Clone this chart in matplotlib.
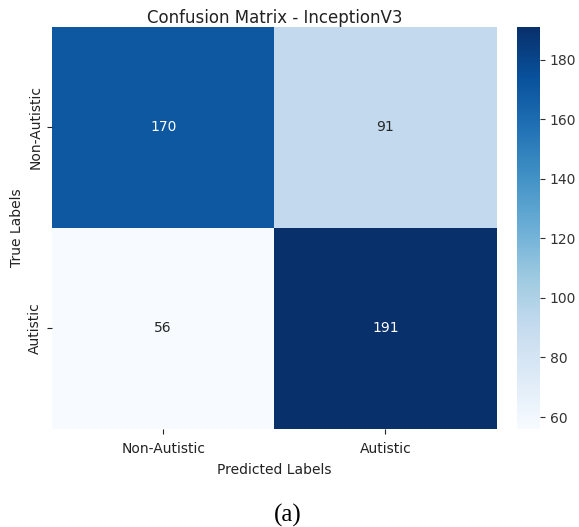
import matplotlib
matplotlib.use("Agg")
import matplotlib.pyplot as plt
import seaborn as sns
import numpy as np

classes = ["Non-Autistic", "Autistic"]
row_non_autistic = [170, 91]
row_autistic = [56, 191]
cbar_ticks = [60, 80, 100, 120, 140, 160, 180]

cm = np.array([row_non_autistic, row_autistic])

fig = plt.figure(figsize=(5.79, 5.27), dpi=100)
ax = fig.add_axes([0.0898, 0.186, 0.768, 0.763])
cax = fig.add_axes([0.893, 0.186, 0.040, 0.763])

sns.heatmap(cm, annot=True, fmt="d", cmap="Blues", ax=ax, cbar_ax=cax,
            xticklabels=classes, yticklabels=classes,
            annot_kws={"fontsize": 10})
cax.set_yticks(cbar_ticks)
cax.tick_params(labelsize=10, color="#333333", labelcolor="#333333")
ax.set_title("Confusion Matrix - InceptionV3", fontsize=12, color="#222222", pad=3)
ax.set_xlabel("Predicted Labels", fontsize=10, color="#222222", labelpad=5)
ax.set_ylabel("True Labels", fontsize=10, color="#222222", labelpad=3)
ax.tick_params(axis="x", labelsize=10, colors="#222222", pad=6)
ax.tick_params(axis="y", labelsize=10, colors="#222222")
for s in cax.spines.values():
    s.set_visible(False)

fig.text(0.497, 0.022, "(a)", family="Liberation Serif", fontsize=18,
         ha="center", va="center")

fig.savefig("out.png", dpi=100)
